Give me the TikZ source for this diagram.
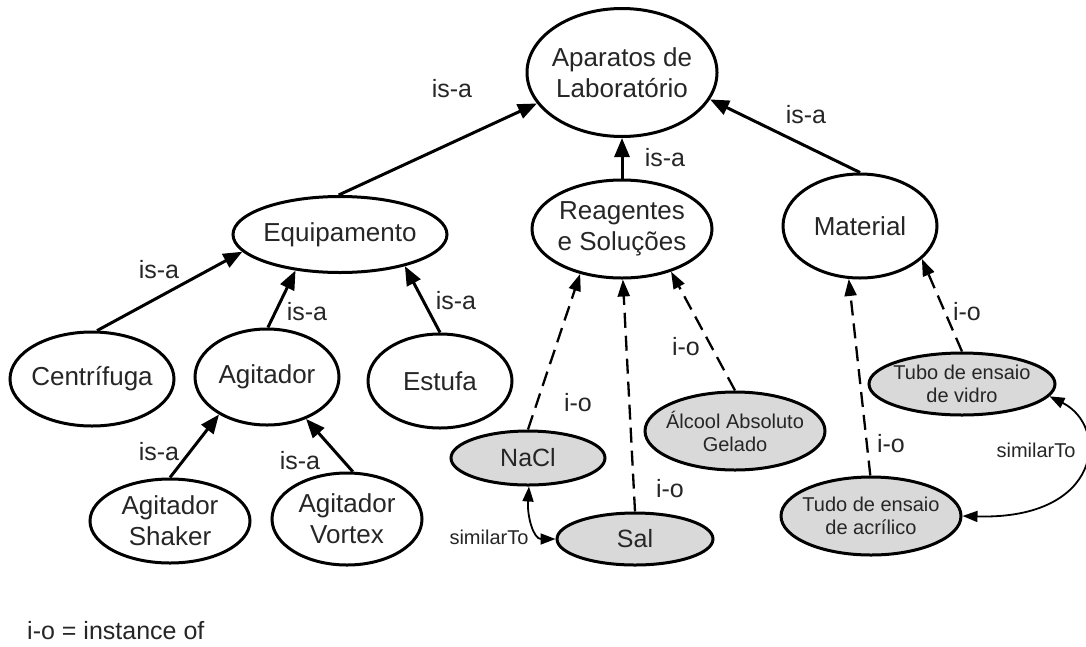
\documentclass[tikz,border=0pt]{standalone}
\usepackage{fontspec}
\setmainfont{Liberation Sans}
\usetikzlibrary{shapes.geometric,arrows.meta}
\begin{document}
\begin{tikzpicture}[x=1pt,y=1pt,
  concept/.style={ellipse,draw=black,line width=3pt,fill=white,
    inner xsep=-8pt,inner ysep=0pt,align=center,text=black!85,
    font=\fontsize{26}{31}\selectfont},
  inst/.style={concept,fill=gray!30,font=\fontsize{20}{23}\selectfont},
  instbig/.style={concept,fill=gray!30,font=\fontsize{25}{30}\selectfont},
  lbl/.style={inner sep=0pt,text=black!85,font=\fontsize{25}{30}\selectfont},
  simlbl/.style={inner sep=0pt,text=black!85,font=\fontsize{20}{24}\selectfont},
  isa/.style={line width=3pt,-{Triangle[length=19pt,width=15pt]}},
  io/.style={line width=2.3pt,dash pattern=on 15pt off 8pt,
    -{Triangle[length=17pt,width=12pt]}},
  sim/.style={line width=1.8pt,
    {Triangle[length=15pt,width=11pt]}-{Triangle[length=15pt,width=11pt]}}
]
\useasboundingbox (0,0) rectangle (1086,-646);
\fill[white] (0,0) rectangle (1086,-646);

% concept hierarchy
\node[concept,minimum width=190pt,minimum height=128pt] (ap) at (622,-72.5) {Aparatos de\\Laboratório};
\node[concept,minimum width=214pt,minimum height=76pt] (eq) at (340,-234.5) {Equipamento};
\node[concept,minimum width=180pt,minimum height=98pt] (rs) at (622,-229) {Reagentes\\e Soluções};
\node[concept,minimum width=154pt,minimum height=104pt] (mt) at (860,-226) {Material};
\node[concept,minimum width=164pt,minimum height=94pt] (ce) at (92,-379) {Centrífuga};
\node[concept,minimum width=144pt,minimum height=96pt] (ag) at (267,-377) {Agitador};
\node[concept,minimum width=144pt,minimum height=94pt] (es) at (440,-381) {Estufa};
\node[concept,minimum width=160pt,minimum height=84pt] (sh) at (170,-521) {Agitador\\Shaker};
\node[concept,minimum width=150pt,minimum height=92pt] (vo) at (347,-519) {Agitador\\Vortex};

% instances
\node[instbig,minimum width=154pt,minimum height=54pt] (na) at (528,-458) {NaCl};
\node[instbig,minimum width=156pt,minimum height=52pt] (sa) at (635,-539) {Sal};
\node[inst,minimum width=180pt,minimum height=78pt] (al) at (735,-431) {Álcool Absoluto\\Gelado};
\node[inst,minimum width=186pt,minimum height=62pt] (vi) at (962,-384) {Tubo de ensaio\\de vidro};
\node[inst,minimum width=180pt,minimum height=78pt] (ac) at (871,-516) {Tudo de ensaio\\de acrílico};

% is-a links
\draw[isa] (eq.92) -- (ap.200);
\draw[isa] (rs.90) -- (ap.270);
\draw[isa] (mt.90) -- (ap.343);
\draw[isa] (ce.84) -- (eq.190);
\draw[isa] (ag.89) -- (eq.219.5);
\draw[isa] (es.90) -- (eq.334.5);
\draw[isa] (sh.90) -- (ag.218.5);
\draw[isa] (vo.83) -- (ag.313);

% instance-of links
\draw[io] (na.90) -- (rs.227.4);
\draw[io] (sa.90) -- (rs.271);
\draw[io] (al.90) -- (rs.319);
\draw[io] (ac.91) -- (mt.258);
\draw[io] (vi.90) -- (mt.332);

% similarity links
\draw[sim] (na.272) .. controls +(-2,-30) and +(-22,0) .. (sa.west);
\draw[sim] (vi.352) .. controls +(60,-30) and +(140,-4) .. (ac.east);

% link labels
\node[lbl] (l1) at (452,-89) {is-a};
\node[lbl] (l2) at (665,-158) {is-a};
\node[lbl] (l3) at (806,-115) {is-a};
\node[lbl] (l4) at (159,-270) {is-a};
\node[lbl] (l5) at (307,-312) {is-a};
\node[lbl] (l6) at (456,-301) {is-a};
\node[lbl] (l7) at (159,-452) {is-a};
\node[lbl] (l8) at (300,-461) {is-a};
\node[lbl] (l9) at (578,-403) {i-o};
\node[lbl] (l10) at (670,-489) {i-o};
\node[lbl] (l11) at (686,-347) {i-o};
\node[lbl] (l12) at (967,-312) {i-o};
\node[lbl] (l13) at (891,-444) {i-o};
\node[simlbl] (s1) at (489,-537) {similarTo};
\node[simlbl] (s2) at (1036,-450) {similarTo};

% legend
\node[lbl,anchor=base west] (legend) at (27,-639) {i-o = instance of};
\end{tikzpicture}
\end{document}
